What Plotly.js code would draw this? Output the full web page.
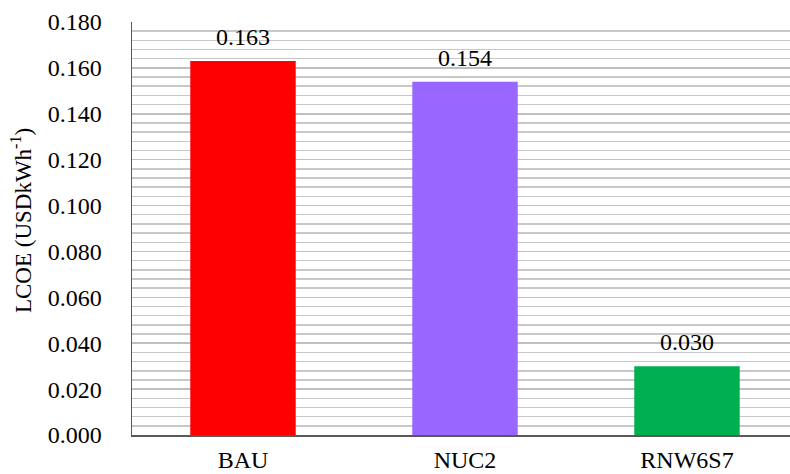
<!DOCTYPE html>
<html>
<head>
<meta charset="utf-8">
<script src="https://cdn.plot.ly/plotly-3.0.1.min.js"></script>
<style>
  html, body { margin: 0; padding: 0; background: #fff; }
  #chart { width: 790px; height: 474px; }
</style>
</head>
<body>
<div id="chart"></div>
<script>
// Levelized cost of electricity per scenario
const scenarios = ['BAU', 'NUC2', 'RNW6S7'];
const lcoe = [0.163, 0.154, 0.030];
const barColors = ['#FF0000', '#9966FF', '#00B050'];
const yTitle = 'LCOE (USDkWh<sup>-1</sup>)';

const serif = 'Liberation Serif';
const txt = { family: serif, size: 24, color: '#000' };

const trace = {
  type: 'bar',
  x: scenarios,
  y: lcoe,
  width: 0.475,
  marker: { color: barColors, line: { width: 0 } },
  hoverinfo: 'skip'
};

// value labels sitting above each bar
const labels = scenarios.map((s, i) => ({
  x: s,
  y: lcoe[i],
  xref: 'x',
  yref: 'y',
  text: lcoe[i].toFixed(3),
  showarrow: false,
  yanchor: 'bottom',
  yshift: 9,
  font: txt
}));

// rotated y-axis title, placed in the left margin
labels.push({
  xref: 'paper',
  yref: 'paper',
  x: (21 - 132) / 658,
  y: 0.518,
  xanchor: 'center',
  yanchor: 'middle',
  textangle: -90,
  text: yTitle,
  showarrow: false,
  font: { family: serif, size: 23, color: '#000' }
});

const layout = {
  width: 790,
  height: 474,
  margin: { l: 132, r: 0, t: 22, b: 39, pad: 0 },
  paper_bgcolor: '#fff',
  plot_bgcolor: '#fff',
  showlegend: false,
  font: txt,
  xaxis: {
    type: 'category',
    range: [-0.5, 2.464],
    showgrid: false,
    zeroline: false,
    showline: true,
    linecolor: '#595959',
    linewidth: 1.5,
    ticks: '',
    ticklabelstandoff: 3,
    tickfont: txt,
    fixedrange: true
  },
  yaxis: {
    range: [0, 0.18],
    dtick: 0.02,
    tick0: 0,
    tickformat: '.3f',
    showgrid: true,
    gridcolor: '#BFBFBF',
    gridwidth: 1.5,
    minor: { dtick: 0.004, showgrid: true, gridcolor: '#C8C8C8', gridwidth: 1.5 },
    zeroline: false,
    showline: true,
    linecolor: '#595959',
    linewidth: 1.5,
    ticks: '',
    ticklabelstandoff: 24,
    tickfont: txt,
    automargin: false,
    fixedrange: true
  },
  annotations: labels
};

Plotly.newPlot('chart', [trace], layout, { staticPlot: true, displayModeBar: false });
</script>
</body>
</html>
